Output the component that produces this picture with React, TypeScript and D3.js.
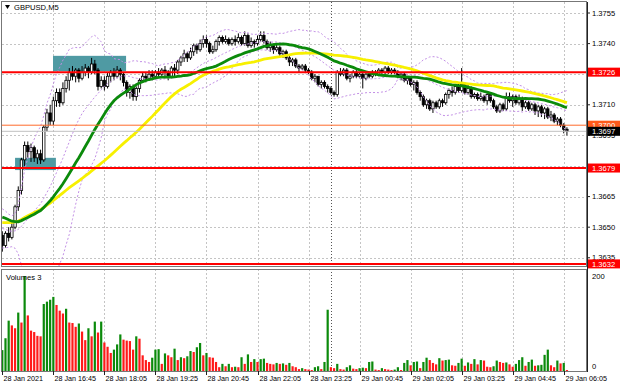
import React, { useEffect, useRef } from "react";
import * as d3 from "d3";

// GBPUSD M5, 28 Jan 15:25 .. 29 Jan 06:10 (one value per bar)
const closes = [
  1.3641, 1.3647, 1.3645, 1.3650, 1.3660, 1.3668, 1.3683, 1.3690, 1.3687, 1.3689,
  1.3684, 1.3686, 1.3683, 1.3699, 1.3706, 1.3702, 1.3712, 1.3716, 1.3711, 1.3718,
  1.3722, 1.3726, 1.3724, 1.3727, 1.3723, 1.3726, 1.3728, 1.3726, 1.3730, 1.3727,
  1.3719, 1.3722, 1.3719, 1.3724, 1.3726, 1.3724, 1.3727, 1.3725, 1.3721, 1.3716,
  1.3719, 1.3714, 1.3718, 1.3722, 1.3724, 1.3723, 1.3725, 1.3724, 1.3726, 1.3725,
  1.3727, 1.3726, 1.3724, 1.3728, 1.3727, 1.3731, 1.3733, 1.3735, 1.3733, 1.3736,
  1.3739, 1.3737, 1.3740, 1.3742, 1.3740, 1.3736, 1.3737, 1.3741, 1.3743, 1.3741,
  1.3742, 1.3740, 1.3742, 1.3741, 1.3743, 1.3740, 1.3744, 1.3739, 1.3741, 1.3740,
  1.3742, 1.3744, 1.3741, 1.3738, 1.3739, 1.3737, 1.3738, 1.3735, 1.3736, 1.3733,
  1.3731, 1.3732, 1.3729, 1.3728, 1.3729, 1.3727, 1.3726, 1.3723, 1.3724, 1.3720,
  1.3721, 1.3719, 1.3718, 1.3716, 1.3715, 1.3726, 1.3725, 1.3727, 1.3723, 1.3724,
  1.3726, 1.3724, 1.3725, 1.3723, 1.3725, 1.3724, 1.3726, 1.3725, 1.3727, 1.3726,
  1.3728, 1.3726, 1.3727, 1.3726, 1.3724, 1.3725, 1.3722, 1.3723, 1.3720, 1.3721,
  1.3716, 1.3714, 1.3710, 1.3712, 1.3708, 1.3711, 1.3709, 1.3712, 1.3711, 1.3715,
  1.3717, 1.3716, 1.3719, 1.3717, 1.3720, 1.3716, 1.3718, 1.3714, 1.3715, 1.3713,
  1.3714, 1.3712, 1.3715, 1.3712, 1.3709, 1.3707, 1.3710, 1.3708, 1.3714, 1.3712,
  1.3714, 1.3711, 1.3713, 1.3709, 1.3711, 1.3708, 1.3710, 1.3707, 1.3709, 1.3706,
  1.3708, 1.3704, 1.3705, 1.3702, 1.3703, 1.3700, 1.3698, 1.3697,
];
const highs = [
  1.3648, 1.3648, 1.3650, 1.3652, 1.3661, 1.3670, 1.3684, 1.3692, 1.3692, 1.3691,
  1.3690, 1.3688, 1.3688, 1.3700, 1.3708, 1.3710, 1.3714, 1.3718, 1.3718, 1.3721,
  1.3724, 1.3728, 1.3729, 1.3728, 1.3728, 1.3729, 1.3730, 1.3729, 1.3733, 1.3732,
  1.3728, 1.3724, 1.3724, 1.3726, 1.3727, 1.3728, 1.3729, 1.3728, 1.3726, 1.3722,
  1.3720, 1.3720, 1.3719, 1.3723, 1.3726, 1.3726, 1.3727, 1.3727, 1.3727, 1.3728,
  1.3728, 1.3729, 1.3727, 1.3729, 1.3730, 1.3732, 1.3734, 1.3737, 1.3736, 1.3738,
  1.3740, 1.3740, 1.3742, 1.3744, 1.3744, 1.3741, 1.3739, 1.3742, 1.3744, 1.3744,
  1.3744, 1.3743, 1.3743, 1.3744, 1.3745, 1.3744, 1.3746, 1.3745, 1.3743, 1.3742,
  1.3744, 1.3746, 1.3746, 1.3742, 1.3741, 1.3740, 1.3740, 1.3739, 1.3737, 1.3737,
  1.3734, 1.3733, 1.3733, 1.3730, 1.3730, 1.3730, 1.3728, 1.3727, 1.3725, 1.3724,
  1.3722, 1.3722, 1.3720, 1.3719, 1.3717, 1.3727, 1.3728, 1.3728, 1.3728, 1.3725,
  1.3727, 1.3727, 1.3726, 1.3726, 1.3726, 1.3726, 1.3727, 1.3727, 1.3728, 1.3728,
  1.3729, 1.3729, 1.3728, 1.3728, 1.3727, 1.3726, 1.3726, 1.3724, 1.3724, 1.3722,
  1.3722, 1.3717, 1.3715, 1.3713, 1.3713, 1.3712, 1.3712, 1.3713, 1.3713, 1.3716,
  1.3718, 1.3719, 1.3720, 1.3721, 1.3728, 1.3721, 1.3720, 1.3719, 1.3716, 1.3716,
  1.3716, 1.3715, 1.3716, 1.3716, 1.3713, 1.3710, 1.3711, 1.3711, 1.3716, 1.3716,
  1.3715, 1.3715, 1.3715, 1.3714, 1.3712, 1.3712, 1.3711, 1.3711, 1.3710, 1.3710,
  1.3709, 1.3709, 1.3707, 1.3706, 1.3704, 1.3704, 1.3701, 1.3699,
];
const lows = [
  1.3638, 1.3640, 1.3643, 1.3644, 1.3649, 1.3658, 1.3666, 1.3680, 1.3684, 1.3682,
  1.3682, 1.3681, 1.3681, 1.3682, 1.3697, 1.3700, 1.3700, 1.3709, 1.3709, 1.3710,
  1.3716, 1.3717, 1.3722, 1.3721, 1.3721, 1.3722, 1.3724, 1.3723, 1.3725, 1.3725,
  1.3717, 1.3718, 1.3717, 1.3718, 1.3721, 1.3722, 1.3723, 1.3722, 1.3719, 1.3714,
  1.3713, 1.3712, 1.3712, 1.3716, 1.3721, 1.3721, 1.3722, 1.3722, 1.3723, 1.3723,
  1.3724, 1.3724, 1.3722, 1.3723, 1.3724, 1.3725, 1.3729, 1.3731, 1.3731, 1.3732,
  1.3734, 1.3735, 1.3736, 1.3738, 1.3738, 1.3735, 1.3735, 1.3736, 1.3739, 1.3740,
  1.3740, 1.3739, 1.3739, 1.3739, 1.3740, 1.3739, 1.3739, 1.3738, 1.3738, 1.3738,
  1.3739, 1.3741, 1.3740, 1.3737, 1.3736, 1.3735, 1.3736, 1.3734, 1.3733, 1.3732,
  1.3729, 1.3729, 1.3728, 1.3726, 1.3727, 1.3726, 1.3725, 1.3722, 1.3721, 1.3719,
  1.3718, 1.3718, 1.3716, 1.3715, 1.3714, 1.3714, 1.3724, 1.3724, 1.3722, 1.3721,
  1.3723, 1.3723, 1.3723, 1.3718, 1.3722, 1.3723, 1.3723, 1.3724, 1.3724, 1.3725,
  1.3725, 1.3725, 1.3725, 1.3725, 1.3723, 1.3722, 1.3721, 1.3720, 1.3719, 1.3717,
  1.3715, 1.3712, 1.3709, 1.3708, 1.3707, 1.3706, 1.3708, 1.3708, 1.3709, 1.3710,
  1.3713, 1.3714, 1.3715, 1.3716, 1.3716, 1.3715, 1.3715, 1.3713, 1.3713, 1.3712,
  1.3712, 1.3711, 1.3710, 1.3711, 1.3708, 1.3706, 1.3706, 1.3707, 1.3707, 1.3711,
  1.3709, 1.3710, 1.3710, 1.3707, 1.3708, 1.3707, 1.3707, 1.3705, 1.3704, 1.3704,
  1.3703, 1.3703, 1.3702, 1.3701, 1.3700, 1.3699, 1.3696, 1.3695,
];
const firstOpen = 1.3646;

// closes of the 49 bars before the window, only needed to seed MA(30), MA(50), Bands(20)
const priorCloses = [
  1.3645, 1.3647, 1.3644, 1.3646, 1.3648, 1.3645, 1.3643, 1.3646, 1.3647, 1.3645,
  1.3648, 1.3650, 1.3647, 1.3649, 1.3651, 1.3648, 1.3650, 1.3652, 1.3655, 1.3658,
  1.3664, 1.3668, 1.3670, 1.3667, 1.3669, 1.3666, 1.3668, 1.3665, 1.3663, 1.3660,
  1.3657, 1.3658, 1.3655, 1.3656, 1.3653, 1.3654, 1.3652, 1.3650, 1.3651, 1.3648,
  1.3649, 1.3647, 1.3646, 1.3648, 1.3645, 1.3644, 1.3646, 1.3643, 1.3645,
];

const volumes = [
  44, 69, 106, 96, 90, 123, 102, 200, 117, 85,
  82, 74, 73, 141, 146, 150, 156, 139, 127, 121,
  131, 102, 101, 93, 100, 83, 65, 90, 73, 104,
  81, 104, 60, 51, 38, 45, 56, 77, 66, 64,
  63, 45, 73, 68, 33, 23, 19, 28, 45, 46,
  15, 37, 33, 29, 47, 23, 29, 27, 31, 42,
  40, 50, 59, 33, 38, 29, 28, 19, 8, 15,
  10, 15, 8, 9, 8, 29, 15, 35, 19, 25,
  19, 25, 26, 17, 15, 14, 17, 15, 16, 13,
  17, 10, 8, 4, 6, 4, 3, 2, 8, 10,
  4, 19, 129, 8, 6, 15, 4, 3, 8, 12,
  5, 4, 6, 7, 6, 19, 20, 3, 2, 6,
  4, 3, 2, 3, 8, 2, 17, 23, 12, 19,
  20, 6, 19, 28, 23, 17, 14, 27, 22, 23,
  24, 12, 11, 17, 26, 11, 18, 15, 25, 14,
  23, 22, 9, 8, 10, 22, 19, 17, 18, 14,
  9, 15, 23, 29, 11, 19, 24, 11, 12, 13,
  34, 45, 12, 8, 22, 16, 17, 2,
];

// one label every 16 bars
const timeLabels = [
  "28 Jan 2021", "28 Jan 16:45", "28 Jan 18:05", "28 Jan 19:25", "28 Jan 20:45", "28 Jan 22:05",
  "28 Jan 23:25", "29 Jan 00:45", "29 Jan 02:05", "29 Jan 03:25", "29 Jan 04:45", "29 Jan 06:05",
];
const daySeparator = 103; // 29 Jan 00:00
const priceTicks = [1.3755, 1.374, 1.3725, 1.371, 1.3695, 1.368, 1.3665, 1.365, 1.3635];
const levels = [1.3726, 1.3679, 1.3632];
const roundLevel = 1.37;
const bid = 1.3697;
const zones = [
  { from: 4, to: 16.8, top: 1.3684, bottom: 1.3678 },
  { from: 15.9, to: 38.8, top: 1.3734, bottom: 1.37265 },
];

const W = 620, H = 388;
const FONT = "'Liberation Sans', Arial, sans-serif";

export default function App() {
  const ref = useRef<SVGSVGElement>(null);

  useEffect(() => {
    const svg = d3.select(ref.current);
    svg.selectAll("*").remove();

    const left = 2, right = 587, top = 2, mainBottom = 267, volTop = 269, volBottom = 371;
    const n = closes.length;
    const x = d3.scaleLinear().domain([0, n - 1]).range([2.3, 2.3 + (n - 1) * 3.19]);
    const y = d3.scaleLinear().domain([1.3632, 1.3755]).range([263.9, 13]);
    const yv = d3.scaleLinear().domain([0, 200]).range([volBottom, 276]);
    const fmt = d3.format(".4f");

    svg.append("rect").attr("width", W).attr("height", H).attr("fill", "#fff");

    const defs = svg.append("defs");
    defs.append("clipPath").attr("id", "mainClip").append("rect")
      .attr("x", left).attr("y", top).attr("width", right - left).attr("height", mainBottom - top);

    // grid
    const grid = svg.append("g").attr("stroke", "#c4c4c4").attr("stroke-dasharray", "2,2").attr("stroke-width", 1);
    priceTicks.forEach((p) => {
      grid.append("line").attr("x1", left).attr("x2", right).attr("y1", Math.round(y(p)) + 0.5).attr("y2", Math.round(y(p)) + 0.5);
    });
    timeLabels.forEach((_, k) => {
      if (k === 0) return;
      const xx = Math.round(x(k * 16)) + 0.5;
      grid.append("line").attr("x1", xx).attr("x2", xx).attr("y1", top).attr("y2", mainBottom);
      grid.append("line").attr("x1", xx).attr("x2", xx).attr("y1", volTop).attr("y2", volBottom);
    });
    const sx = Math.round(x(daySeparator)) + 0.5;
    svg.append("line").attr("x1", sx).attr("x2", sx).attr("y1", top).attr("y2", volBottom)
      .attr("stroke", "#555").attr("stroke-dasharray", "1,2");

    const main = svg.append("g").attr("clip-path", "url(#mainClip)");

    // zones
    zones.forEach((z) => {
      main.append("rect").attr("x", x(z.from)).attr("width", x(z.to) - x(z.from))
        .attr("y", y(z.top)).attr("height", y(z.bottom) - y(z.top)).attr("fill", "#4f9aa3");
    });

    // indicators from closes
    const all = priorCloses.concat(closes);
    const off = priorCloses.length;
    const sma = (len: number) => closes.map((_, i) => d3.mean(all.slice(off + i - len + 1, off + i + 1)) as number);
    const bands = closes.map((_, i) => {
      const w = all.slice(off + i - 19, off + i + 1);
      const m = d3.mean(w) as number;
      const sd = Math.sqrt(d3.mean(w, (v) => (v - m) * (v - m)) as number);
      return { m, up: m + 2 * sd, lo: m - 2 * sd };
    });
    const line = d3.line<number>().x((_, i) => x(i)).y((v) => y(v));

    // candles
    const candles = main.append("g");
    closes.forEach((c, i) => {
      const o = i === 0 ? firstOpen : closes[i - 1];
      const hi = Math.max(highs[i], o, c), lo = Math.min(lows[i], o, c);
      const cx = x(i);
      candles.append("line").attr("x1", cx).attr("x2", cx).attr("y1", y(hi)).attr("y2", y(lo))
        .attr("stroke", "#000").attr("stroke-width", 1);
      const bt = y(Math.max(o, c)), bb = y(Math.min(o, c));
      candles.append("rect").attr("x", cx - 1.2).attr("width", 2.4)
        .attr("y", bt).attr("height", Math.max(bb - bt, 0.8))
        .attr("fill", c > o ? "#fff" : "#000").attr("stroke", "#000").attr("stroke-width", 0.8);
    });

    ["up", "m", "lo"].forEach((key) => {
      main.append("path").datum(bands.map((b: any) => b[key])).attr("d", line)
        .attr("fill", "none").attr("stroke", "#c390e6").attr("stroke-width", 1).attr("stroke-dasharray", "2,2");
    });
    main.append("path").datum(sma(50)).attr("d", line)
      .attr("fill", "none").attr("stroke", "#f7f000").attr("stroke-width", 2.8);
    main.append("path").datum(sma(30)).attr("d", line)
      .attr("fill", "none").attr("stroke", "#0b8a0b").attr("stroke-width", 2.8);

    // horizontal levels
    main.append("line").attr("x1", left).attr("x2", right).attr("y1", y(bid)).attr("y2", y(bid))
      .attr("stroke", "#c0c0c0").attr("stroke-width", 1);
    main.append("line").attr("x1", left).attr("x2", right).attr("y1", y(roundLevel)).attr("y2", y(roundLevel))
      .attr("stroke", "#ff6a2a").attr("stroke-width", 1);
    levels.forEach((p) => {
      main.append("line").attr("x1", left).attr("x2", right).attr("y1", y(p)).attr("y2", y(p))
        .attr("stroke", "#ff0000").attr("stroke-width", 2);
    });

    // volumes
    const vol = svg.append("g");
    volumes.forEach((v, i) => {
      const up = i === 0 || v > volumes[i - 1];
      vol.append("rect").attr("x", x(i) - 1.1).attr("width", 2.2)
        .attr("y", yv(v)).attr("height", volBottom - yv(v))
        .attr("fill", up ? "#0b8a0b" : "#ff1a1a");
    });

    // frames
    const frame = svg.append("g").attr("fill", "none").attr("stroke", "#777");
    frame.append("rect").attr("x", left - 0.5).attr("y", top - 0.5).attr("width", right - left).attr("height", mainBottom - top);
    frame.append("rect").attr("x", left - 0.5).attr("y", volTop + 0.5).attr("width", right - left).attr("height", volBottom - volTop);
    svg.append("line").attr("x1", right + 0.5).attr("x2", right + 0.5).attr("y1", top).attr("y2", volBottom + 1)
      .attr("stroke", "#222");

    // price axis; a tick label fully hidden behind a level tag is not drawn
    const axis = svg.append("g").attr("font-family", FONT).attr("font-size", 7.6).attr("fill", "#000");
    priceTicks.forEach((p) => {
      axis.append("line").attr("x1", right).attr("x2", right + 3).attr("y1", y(p)).attr("y2", y(p)).attr("stroke", "#222");
      const hidden = levels.some((l) => Math.abs(y(l) - y(p)) < 2.5);
      if (!hidden) axis.append("text").attr("x", 592).attr("y", y(p)).attr("dy", "0.35em").text(fmt(p));
    });
    const tag = (p: number, fill: string) => {
      axis.append("rect").attr("x", right + 1).attr("y", y(p) - 4.5).attr("width", W - right - 1).attr("height", 9).attr("fill", fill);
      axis.append("text").attr("x", 592).attr("y", y(p)).attr("dy", "0.35em").attr("fill", "#fff").text(fmt(p));
    };
    levels.forEach((p) => tag(p, "#ff0000"));
    tag(roundLevel, "#ff5a1a");
    tag(bid, "#000");

    axis.append("text").attr("x", 592).attr("y", yv(200)).attr("dy", "0.35em").text("200");
    axis.append("text").attr("x", 592).attr("y", volBottom - 5).attr("dy", "0.35em").text("0");

    // time axis
    timeLabels.forEach((t, k) => {
      const xx = Math.round(x(k * 16)) + 0.5;
      axis.append("line").attr("x1", xx).attr("x2", xx).attr("y1", volBottom).attr("y2", volBottom + 4).attr("stroke", "#222");
      axis.append("text").attr("x", xx + 1).attr("y", 381).attr("font-size", 7.2).text(t);
    });

    // titles
    axis.append("path").attr("d", "M5,5 L10,5 L7.5,9 Z").attr("fill", "#000");
    axis.append("text").attr("x", 14).attr("y", 10).text("GBPUSD,M5");
    axis.append("text").attr("x", 6).attr("y", 280).text("Volumes 3");
  }, []);

  return <svg ref={ref} width={W} height={H} style={{ position: "absolute", left: 0, top: 0 }} />;
}
